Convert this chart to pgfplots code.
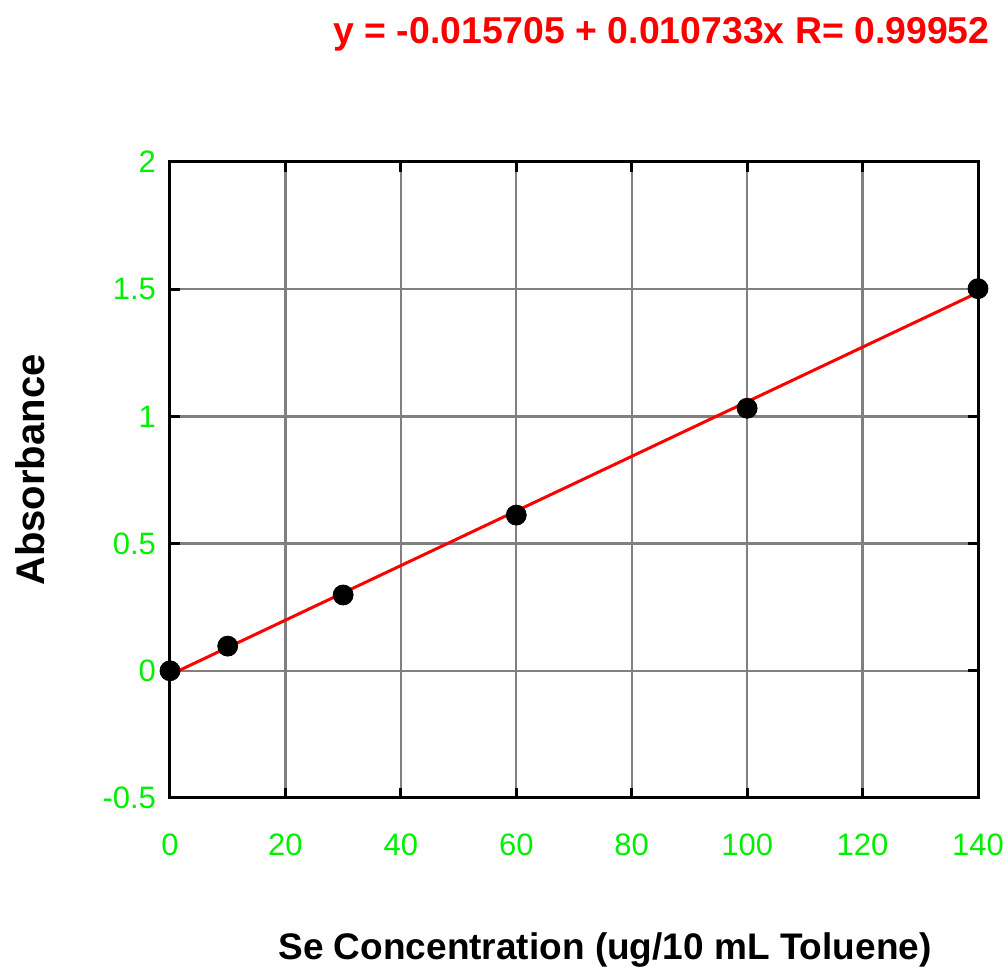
\documentclass[border=0pt]{standalone}
\usepackage{pgfplots}
\pgfplotsset{compat=1.18}
\usepackage{fontspec}
\setmainfont{Liberation Sans}
\definecolor{ticklbl}{RGB}{0,240,0}
\definecolor{gridgray}{RGB}{128,128,128}
\begin{document}
\begin{tikzpicture}[x=1pt,y=1pt]
\useasboundingbox (-85,-87.5) rectangle (419,399);
\begin{axis}[
  at={(0,0)}, anchor=south west,
  scale only axis, width=404pt, height=318pt,
  xmin=0, xmax=140, ymin=-0.5, ymax=2,
  xtick={0,20,...,140}, ytick={-0.5,0,0.5,1,1.5,2},
  grid=major,
  major grid style={gridgray, line width=1.2pt},
  axis line style={black, line width=1.5pt},
  tick style={black, line width=1.5pt},
  tick align=inside, major tick length=5pt,
  ticklabel style={font=\fontsize{15.5}{17}\selectfont, text=ticklbl},
  /pgf/number format/assume math mode=true,
  yticklabel style={xshift=-3.5pt},
  xticklabel style={yshift=-14.5pt},
  clip=false,
]
% least-squares fit line
\addplot[red, line width=1.5pt, no marks] coordinates {(0,-0.015705) (140,1.486915)};
% measured standards
\addplot[only marks, mark=*, mark size=5pt, black] coordinates {
  (0,0) (10,0.097) (30,0.298) (60,0.612) (100,1.032) (140,1.502)
};
\end{axis}
\node[anchor=base east, inner sep=0pt, red, font=\bfseries\fontsize{18.7}{22}\selectfont] at (410,377) {y = -0.015705 + 0.010733x R= 0.99952};
\node[font=\bfseries\fontsize{20}{22}\selectfont, rotate=90] at (-70,164) {Absorbance};
\node[font=\bfseries\fontsize{18.5}{20}\selectfont] at (217.5,-76) {Se Concentration (ug/10 mL Toluene)};
\end{tikzpicture}
\end{document}
